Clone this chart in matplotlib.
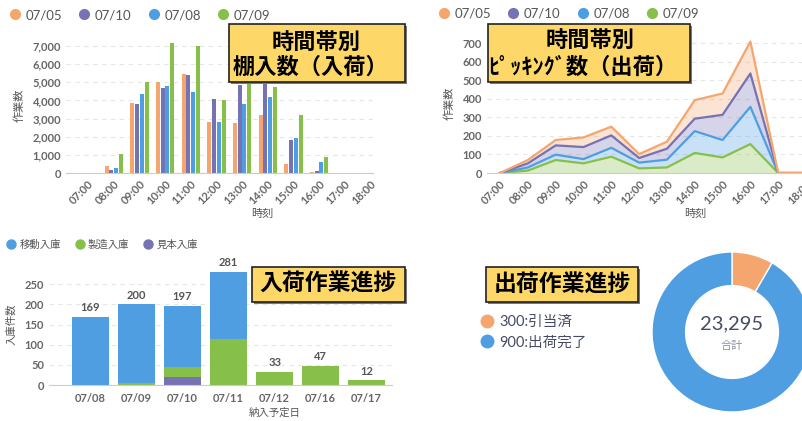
import numpy as np
import matplotlib.pyplot as plt
from matplotlib.lines import Line2D
from matplotlib.patches import Rectangle

plt.rcParams['font.family'] = ['Lato', 'Noto Sans CJK JP', 'DejaVu Sans']

W, H = 802, 421

# data: inbound shelf count by hour
hours = ['07:00', '08:00', '09:00', '10:00', '11:00', '12:00',
         '13:00', '14:00', '15:00', '16:00', '17:00', '18:00']
day_labels = ['07/05', '07/10', '07/08', '07/09']
in_0705 = [0, 390, 3840, 5020, 5480, 2810, 2760, 3200, 480, 40, 0, 0]
in_0710 = [20, 180, 3800, 4670, 5420, 4080, 4850, 4910, 1820, 90, 0, 0]
in_0708 = [20, 260, 4370, 4800, 4470, 2810, 3800, 4190, 1930, 610, 0, 0]
in_0709 = [0, 1050, 5000, 7170, 6990, 4040, 4910, 4720, 3180, 900, 0, 0]

# data: picking count by hour (stacked)
pk_0705 = [0, 18, 29, 52, 47, 21, 38, 100, 115, 172, 0, 0]
pk_0710 = [0, 22, 50, 65, 67, 25, 59, 67, 136, 180, 0, 0]
pk_0708 = [0, 17, 29, 23, 48, 31, 42, 118, 94, 201, 0, 0]
pk_0709 = [0, 13, 70, 52, 88, 25, 30, 108, 84, 156, 0, 0]

# data: inbound progress by delivery date
dates = ['07/08', '07/09', '07/10', '07/11', '07/12', '07/16', '07/17']
kind_labels = ['移動入庫', '製造入庫', '見本入庫']
move_in = [169, 195, 153, 167, 0, 0, 0]
manuf_in = [0, 5, 25, 114, 33, 47, 12]
sample_in = [0, 0, 19, 0, 0, 0, 0]

# data: shipping progress
ship_labels = ['300:引当済', '900:出荷完了']
ship_values = [1950, 21345]

c_orange = '#f4a66e'
c_purple = '#7672b4'
c_blue = '#4f9ee2'
c_green = '#86c04a'
day_colors = [c_orange, c_purple, c_blue, c_green]
tick_col = '#666666'
lab_col = '#555555'


def px_axes(x0, y0, x1, y1):
    # pixel box (top-left origin) -> figure axes
    return fig.add_axes([x0 / W, 1 - y1 / H, (x1 - x0) / W, (y1 - y0) / H])


def style(ax):
    for s in ['top', 'right', 'left']:
        ax.spines[s].set_visible(False)
    ax.spines['bottom'].set_color('#cccccc')
    ax.yaxis.grid(True, linestyle=(0, (4, 4)), color='#e6e6e6', lw=0.8)
    ax.set_axisbelow(True)
    ax.tick_params(length=0, colors=tick_col, labelsize=8)
    for t in ax.get_yticklabels() + ax.get_xticklabels():
        t.set_fontweight('bold')


def title_box(x0, y0, x1, y1, lines, size=16):
    fig.add_artist(Rectangle((x0 / W + 2 / W, 1 - y1 / H - 2 / H), (x1 - x0) / W, (y1 - y0) / H,
                             transform=fig.transFigure, facecolor='#777777', edgecolor='none', zorder=9))
    fig.add_artist(Rectangle((x0 / W, 1 - y1 / H), (x1 - x0) / W, (y1 - y0) / H,
                             transform=fig.transFigure, facecolor='#fdd868', edgecolor='#222222',
                             lw=1.2, zorder=10))
    for (tx, ty, s) in lines:
        fig.text(tx / W, 1 - ty / H, s, ha='center', va='center', fontsize=size,
                 fontweight='bold', family=['Noto Sans CJK JP'], color='black', zorder=11)


def dot_legend(labels, colors, x, y, size=8.5, col=lab_col, ncol=None, spacing=1.6, ms=7, **kw):
    handles = [Line2D([], [], marker='o', ls='none', color=c, markersize=ms) for c in colors]
    fig.legend(handles, labels, loc='center left', bbox_to_anchor=(x / W, 1 - y / H),
               ncol=ncol or len(labels), frameon=False, handletextpad=0.3,
               columnspacing=spacing, handlelength=1.0, borderaxespad=0, borderpad=0,
               labelcolor=col, prop={'size': size}, **kw)


fig = plt.figure(figsize=(W / 100, H / 100), dpi=100)

# --- top-left: grouped bars ---
ax1 = px_axes(66, 37, 373, 173)
x = np.arange(len(hours))
bw = 0.185
for i, (vals, c) in enumerate(zip([in_0705, in_0710, in_0708, in_0709], day_colors)):
    ax1.bar(x + (i - 1.5) * bw, vals, width=bw - 0.03, color=c)
ax1.set_xlim(-0.86, 11.1)
ax1.set_ylim(0, 7500)
ax1.set_yticks(range(0, 7001, 1000))
ax1.set_yticklabels([f'{v:,}' for v in range(0, 7001, 1000)])
ax1.set_xticks(x)
ax1.set_xticklabels(hours, rotation=45, ha='right', rotation_mode='anchor')
style(ax1)
ax1.set_ylabel('作業数', color=lab_col, fontsize=8, labelpad=6)
fig.text(262 / W, 1 - 213 / H, '時刻', ha='center', va='center', fontsize=8, color=lab_col)
dot_legend(day_labels, day_colors, 8, 15, size=9.5, spacing=1.2)
title_box(229, 24, 405, 82, [(316, 42, '時間帯別'), (310, 67, '棚入数（入荷）')])

# --- top-right: stacked area ---
ax2 = px_axes(487, 34, 806, 173)
stack_vals = [pk_0709, pk_0708, pk_0710, pk_0705]
stack_cols = [c_green, c_blue, c_purple, c_orange]
ax2.stackplot(x, stack_vals, colors=stack_cols, alpha=0.3, lw=0)
cum = np.cumsum(np.array(stack_vals), axis=0)
for row, c in zip(cum, stack_cols):
    ax2.plot(x, row, color=c, lw=1.6)
ax2.set_xlim(-0.47, 11)
ax2.set_ylim(0, 750)
ax2.set_yticks(range(0, 701, 100))
ax2.set_xticks(x)
ax2.set_xticklabels(hours, rotation=45, ha='right', rotation_mode='anchor')
style(ax2)
ax2.set_ylabel('作業数', color=lab_col, fontsize=8, labelpad=6)
fig.text(695 / W, 1 - 213 / H, '時刻', ha='center', va='center', fontsize=8, color=lab_col)
dot_legend(day_labels, day_colors, 437, 14, size=9.5, spacing=1.2)
title_box(488, 24, 690, 82, [(590, 40, '時間帯別'), (583, 67, 'ﾋﾟｯｷﾝｸﾞ数（出荷）')])

# --- bottom-left: stacked bars ---
ax3 = px_axes(49, 264, 392, 385)
xd = np.arange(len(dates))
b0 = np.array(sample_in)
b1 = b0 + np.array(manuf_in)
tot = b1 + np.array(move_in)
ax3.bar(xd, sample_in, width=0.8, color=c_purple)
ax3.bar(xd, manuf_in, width=0.8, bottom=b0, color=c_green)
ax3.bar(xd, move_in, width=0.8, bottom=b1, color=c_blue)
for xi, t in zip(xd, tot):
    ax3.text(xi, t + 9, f'{t}', ha='center', va='bottom', fontsize=8,
             fontweight='bold', color=lab_col)
ax3.set_xlim(-0.9, 6.55)
ax3.set_ylim(0, 300)
ax3.set_yticks(range(0, 251, 50))
ax3.set_xticks(xd)
ax3.set_xticklabels(dates)
style(ax3)
ax3.tick_params(axis='x', pad=6)
ax3.set_ylabel('入庫件数', color=lab_col, fontsize=7.5, labelpad=6)
fig.text(275 / W, 1 - 413 / H, '納入予定日', ha='center', va='center', fontsize=7.5, color=lab_col)
dot_legend(kind_labels, [c_blue, c_green, c_purple], 6, 245, size=7.5, spacing=1.3, ms=6.5)
title_box(252, 267, 405, 302, [(328, 284, '入荷作業進捗')], size=16.5)

# --- bottom-right: donut ---
ax4 = px_axes(652, 252, 812, 412)
ax4.pie(ship_values, colors=[c_orange, c_blue], startangle=90, counterclock=False,
        radius=1.0, wedgeprops=dict(width=0.42, edgecolor='white', linewidth=1))
ax4.set_xlim(-1, 1)
ax4.set_ylim(-1, 1)
ax4.set_aspect('equal')
ax4.text(0, 0.1, f'{sum(ship_values):,}', ha='center', va='center', fontsize=14.5, color='#464c66')
ax4.text(0, -0.17, '合計', ha='center', va='center', fontsize=8, color='#8a8fa3')
dot_legend(ship_labels, [c_orange, c_blue], 480, 332, size=10.5, col='#464c66', ncol=1,
           ms=9, labelspacing=0.45)
title_box(486, 267, 638, 302, [(562, 284, '出荷作業進捗')], size=16.5)

fig.savefig('out.png', dpi=100)
